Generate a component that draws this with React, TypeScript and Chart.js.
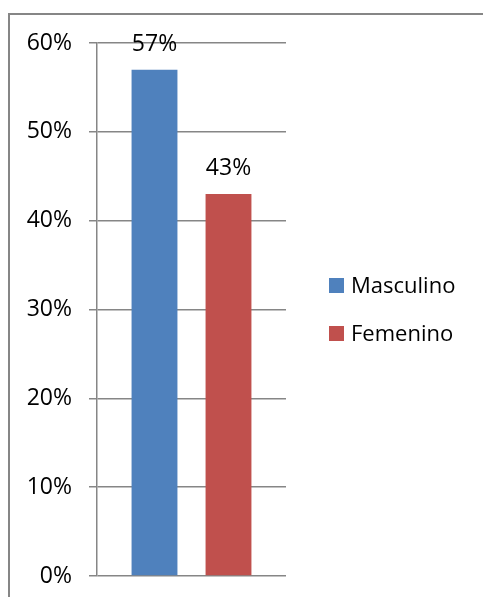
import { useEffect, useRef } from "react";
import { Chart, registerables } from "chart.js";

Chart.register(...registerables);

const categories = ["Sexo"];
const seriesNames = ["Masculino", "Femenino"];
const masculinoValues = [0.57];
const femeninoValues = [0.43];
const seriesColors = ["#4F81BD", "#C0504D"];
const yMin = 0;
const yMax = 0.6;
const yStep = 0.1;

const FONT = "'Open Sans', 'Liberation Sans', sans-serif";
const FONT_SIZE = 22;
const TICK_FONT_SIZE = 23;
const GRID = "#868686";

const pct = (v: number) => `${Math.round(v * 100)}%`;

const dataLabels = {
  id: "dataLabels",
  afterDatasetsDraw(chart: any) {
    const { ctx } = chart;
    ctx.save();
    ctx.font = `${TICK_FONT_SIZE}px ${FONT}`;
    ctx.fillStyle = "#000";
    ctx.textAlign = "center";
    ctx.textBaseline = "alphabetic";
    chart.data.datasets.forEach((ds: any, i: number) => {
      const meta = chart.getDatasetMeta(i);
      meta.data.forEach((el: any, j: number) => {
        ctx.fillText(pct(ds.data[j]), el.x, el.y - 19);
      });
    });
    ctx.restore();
  },
};

// Legend drawn to the right of the plot area, vertically centred on it
const sideLegend = {
  id: "sideLegend",
  afterDraw(chart: any) {
    const { ctx, chartArea } = chart;
    const items = chart.data.datasets;
    const spacing = 48;
    const box = 15;
    const x0 = chartArea.right + 43;
    const yc = (chartArea.top + chartArea.bottom) / 2;
    const first = yc - ((items.length - 1) * spacing) / 2;
    ctx.save();
    ctx.font = `${FONT_SIZE}px ${FONT}`;
    ctx.textAlign = "left";
    ctx.textBaseline = "middle";
    items.forEach((ds: any, i: number) => {
      const y = first + i * spacing;
      ctx.fillStyle = ds.backgroundColor;
      ctx.fillRect(x0, y - box / 2, box, box);
      ctx.fillStyle = "#000";
      ctx.fillText(ds.label, x0 + box + 7, y + 1);
    });
    ctx.restore();
  },
};

export default function App() {
  const ref = useRef<HTMLCanvasElement>(null);
  useEffect(() => {
    if (!ref.current) return;
    const chart = new Chart(ref.current, {
      type: "bar",
      data: {
        labels: categories,
        datasets: [
          { label: seriesNames[0], data: masculinoValues, backgroundColor: seriesColors[0] },
          { label: seriesNames[1], data: femeninoValues, backgroundColor: seriesColors[1] },
        ],
      },
      options: {
        responsive: false,
        animation: false,
        devicePixelRatio: 1,
        categoryPercentage: 0.783,
        barPercentage: 0.62,
        layout: { padding: { left: 10, top: 43, bottom: 21, right: 197 } },
        plugins: {
          legend: { display: false },
          tooltip: { enabled: false },
        },
        scales: {
          x: {
            display: false,
          },
          y: {
            min: yMin,
            max: yMax,
            ticks: {
              stepSize: yStep,
              callback: (v: any) => pct(Number(v)),
              color: "#000",
              padding: 17,
              font: { family: FONT, size: TICK_FONT_SIZE },
            },
            grid: { color: GRID, lineWidth: 1.5, tickLength: 8, drawTicks: true },
            border: { color: GRID, width: 1.5 },
            afterFit: (s: any) => {
              s.width = 87;
              s.paddingTop = 0;
              s.paddingBottom = 0;
            },
          },
        },
      },
      plugins: [dataLabels, sideLegend],
    });
    return () => chart.destroy();
  }, []);
  return (
    <div style={{ position: "fixed", left: 0, top: 0, width: 483, height: 597, overflow: "hidden", background: "#fff" }}>
      <div
        style={{
          position: "absolute",
          left: 8,
          top: 13,
          width: 700,
          height: 800,
          borderTop: `2px solid ${GRID}`,
          borderLeft: `2px solid ${GRID}`,
        }}
      />
      <canvas ref={ref} width={483} height={597} style={{ position: "absolute", left: 0, top: 0, width: 483, height: 597 }} />
    </div>
  );
}
